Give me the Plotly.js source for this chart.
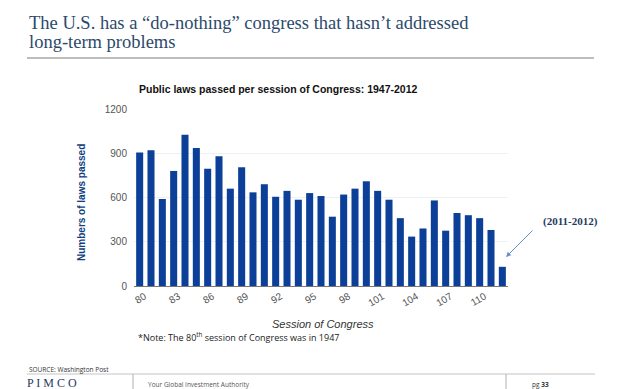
<!DOCTYPE html>
<html>
<head>
<meta charset="utf-8">
<script src="https://cdn.plot.ly/plotly-3.0.1.min.js"></script>
<style>
  html, body { margin: 0; padding: 0; background: #ffffff; }
  #chart { width: 628px; height: 389px; }
</style>
</head>
<body>
<div id="chart"></div>
<script>
// ---- Data ----
const sessions = [80, 81, 82, 83, 84, 85, 86, 87, 88, 89, 90, 91, 92, 93, 94, 95, 96,
                  97, 98, 99, 100, 101, 102, 103, 104, 105, 106, 107, 108, 109, 110, 111, 112];
const lawsPassed = [905, 920, 590, 780, 1025, 935, 795, 880, 660, 805, 635, 690, 605, 645, 585, 630, 610,
                    470, 620, 660, 710, 645, 585, 460, 335, 390, 580, 375, 495, 480, 460, 380, 130];
const xTickVals = [80, 83, 86, 89, 92, 95, 98, 101, 104, 107, 110];
const xTickText = ["80", "83", "86", "89", "92", "95", "98", "101", "104", "107", "110"];
const yTickVals = [0, 300, 600, 900, 1200];

// ---- Layout helpers (pixel -> paper) ----
const W = 628, H = 389;
const M = { l: 134, r: 120, t: 109, b: 103 };
const PW = W - M.l - M.r, PH = H - M.t - M.b;
const px = x => (x - M.l) / PW;
const py = y => (H - M.b - y) / PH;

const barColor = '#0b3f98';
const headColor = '#2b4a6b';

const trace = {
  type: 'bar',
  x: sessions,
  y: lawsPassed,
  marker: { color: barColor },
  hoverinfo: 'x+y'
};

function txt(text, x, y, opts) {
  return Object.assign({
    text: text, xref: 'paper', yref: 'paper', x: px(x), y: py(y),
    showarrow: false, xanchor: 'left', yanchor: 'middle',
    font: { family: 'Liberation Sans, Arial, sans-serif', size: 10, color: '#222' }
  }, opts || {});
}

const annotations = [
  txt('The U.S. has a “do-nothing” congress that hasn’t addressed', 27, 23,
      { font: { family: 'Liberation Serif, Times New Roman, serif', size: 18.5, color: headColor } }),
  txt('long-term problems', 27, 42,
      { font: { family: 'Liberation Serif, Times New Roman, serif', size: 18.5, color: headColor } }),
  txt('<b>Public laws passed per session of Congress: 1947-2012</b>', 137, 89,
      { font: { family: 'Liberation Sans, Arial, sans-serif', size: 10.5, color: '#111' } }),
  txt('<b>Numbers of laws passed</b>', 81, 203,
      { xanchor: 'center', textangle: -90,
        font: { family: 'Liberation Sans Narrow, Arial Narrow, Liberation Sans, sans-serif', size: 10, color: '#123f80' } }),
  txt('<i>Session of Congress</i>', 323, 324,
      { xanchor: 'center', font: { family: 'Liberation Sans, Arial, sans-serif', size: 11, color: '#333' } }),
  txt('*Note: The 80<sup>th</sup> session of Congress was in 1947', 136, 337,
      { font: { family: 'Open Sans, Liberation Sans, sans-serif', size: 9, color: '#222' } }),
  txt('<b>(2011-2012)</b>', 570, 221,
      { xanchor: 'center', font: { family: 'Liberation Serif, Times New Roman, serif', size: 11, color: '#1f3a5f' } }),
  {
    text: '', xref: 'paper', yref: 'paper', x: px(506), y: py(257),
    showarrow: true, axref: 'pixel', ayref: 'pixel', ax: 28, ay: -28,
    arrowhead: 2, arrowsize: 1, arrowwidth: 1, arrowcolor: '#6b8fc9'
  },
  txt('SOURCE: Washington Post', 27, 369,
      { font: { family: 'Open Sans, Liberation Sans, sans-serif', size: 6.5, color: '#333' } }),
  txt('P I M C O', 25, 383,
      { font: { family: 'Liberation Serif, Times New Roman, serif', size: 12, color: '#1f3a5f' } }),
  txt('Your Global Investment Authority', 146, 384,
      { font: { family: 'Open Sans, Liberation Sans, sans-serif', size: 6.5, color: '#555' } }),
  txt('pg <b>33</b>', 530, 384,
      { font: { family: 'Open Sans, Liberation Sans, sans-serif', size: 6.5, color: '#333' } })
];

function hline(x0, x1, y, color, w) {
  return { type: 'line', xref: 'paper', yref: 'paper', x0: px(x0), x1: px(x1), y0: py(y), y1: py(y),
           line: { color: color, width: w } };
}
function vline(x, y0, y1, color, w) {
  return { type: 'line', xref: 'paper', yref: 'paper', x0: px(x), x1: px(x), y0: py(y0), y1: py(y1),
           line: { color: color, width: w } };
}

const shapes = [
  hline(27, 594, 58, '#a8a8a8', 1.5),
  hline(27, 595, 374, '#c4c4c4', 1),
  vline(133, 374, 389, '#b0b0b0', 1),
  vline(506, 374, 389, '#b0b0b0', 1)
];

const layout = {
  width: W, height: H,
  margin: M,
  paper_bgcolor: '#ffffff',
  plot_bgcolor: '#ffffff',
  showlegend: false,
  bargap: 0.38,
  xaxis: {
    type: 'linear',
    range: [79.5, 112.5],
    tickmode: 'array',
    tickvals: xTickVals,
    ticktext: xTickText,
    tickangle: -30,
    ticklabelshift: 5,
    tickfont: { family: 'Liberation Sans, Arial, sans-serif', size: 10, color: '#555' },
    showgrid: false,
    zeroline: false,
    showline: true,
    linecolor: '#777',
    linewidth: 1,
    ticks: '',
    fixedrange: true
  },
  yaxis: {
    range: [0, 1200],
    tickmode: 'array',
    tickvals: yTickVals,
    tickfont: { family: 'Liberation Sans, Arial, sans-serif', size: 10, color: '#555' },
    showgrid: true,
    gridcolor: '#f0f0f0',
    gridwidth: 1,
    zeroline: false,
    showline: false,
    ticks: '',
    ticklabelstandoff: 6,
    fixedrange: true
  },
  annotations: annotations,
  shapes: shapes
};

Plotly.newPlot('chart', [trace], layout, { displayModeBar: false, staticPlot: true });
</script>
</body>
</html>
